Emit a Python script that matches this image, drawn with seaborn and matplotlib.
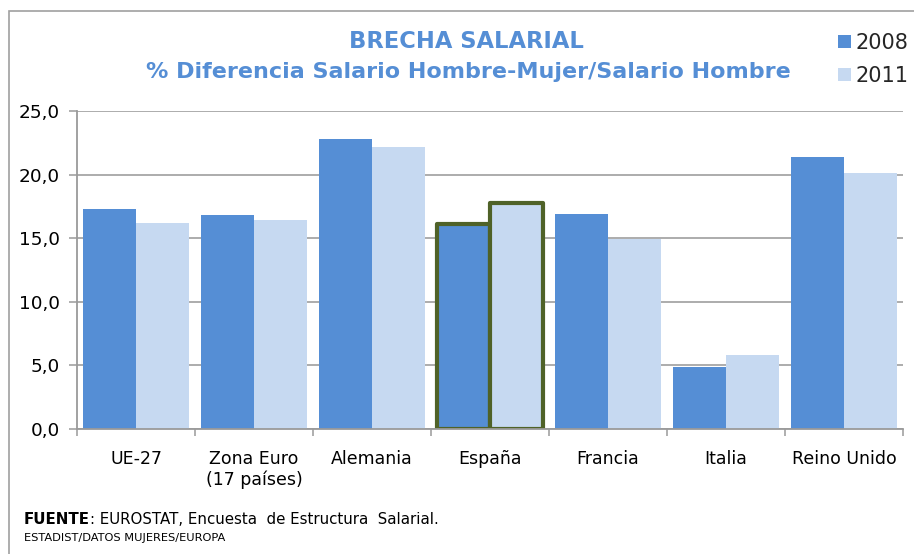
import matplotlib
matplotlib.use("Agg")
import matplotlib.pyplot as plt
from matplotlib.patches import Rectangle
from matplotlib.ticker import FuncFormatter, FixedLocator
import seaborn as sns
import pandas as pd

paises = ["UE-27", "Zona Euro\n(17 países)", "Alemania", "España", "Francia", "Italia", "Reino Unido"]
brecha_2008 = [17.3, 16.8, 22.8, 16.1, 16.9, 4.9, 21.4]
brecha_2011 = [16.2, 16.4, 22.2, 17.8, 14.9, 5.8, 20.1]
anios = ["2008", "2011"]
colores = ["#558ED5", "#C6D9F1"]
destacado = "España"

df = pd.DataFrame({
    "pais": paises * 2,
    "valor": brecha_2008 + brecha_2011,
    "anio": [anios[0]] * len(paises) + [anios[1]] * len(paises),
})

sns.set_theme(style="white")
plt.rcParams["font.family"] = ["DejaVu Sans"]

W, H = 914, 554
fig = plt.figure(figsize=(W / 100, H / 100), dpi=100)
ax = fig.add_axes([77 / W, (H - 429) / H, (903 - 77) / W, (429 - 111) / H])

sns.barplot(data=df, x="pais", y="valor", hue="anio", palette=colores,
            saturation=1, width=0.89, gap=0, ax=ax, legend=True,
            linewidth=0, edgecolor="none")

# highlight the Spanish pair of bars with a dark green outline
idx = paises.index(destacado)
for cont in ax.containers:
    bar = cont.patches[idx]
    bar.set_edgecolor("#4F6228")
    bar.set_linewidth(3.0)
    bar.set_joinstyle("round")

ax.set_ylim(0, 25)
ax.set_xlim(-0.5, len(paises) - 0.5)
ax.yaxis.set_major_locator(FixedLocator([0, 5, 10, 15, 20, 25]))
ax.yaxis.set_major_formatter(FuncFormatter(lambda v, p: f"{v:.1f}".replace(".", ",")))
ax.grid(axis="y", color="#A6A6A6", linewidth=1.3)
ax.grid(axis="x", visible=False)
ax.set_axisbelow(True)

ax.set_xlabel("")
ax.set_ylabel("")
for s in ["top", "right"]:
    ax.spines[s].set_visible(False)
for s in ["left", "bottom"]:
    ax.spines[s].set_color("#9A9A9A")
    ax.spines[s].set_linewidth(1.3)

ax.tick_params(axis="y", which="major", left=True, length=5.5, width=1.1, color="#9A9A9A",
               labelsize=13.3, pad=7, labelcolor="#000000")
ax.set_xticks([i - 0.5 for i in range(len(paises) + 1)], minor=True)
ax.tick_params(axis="x", which="major", bottom=False, labelsize=12.5, pad=9, labelcolor="#000000")
ax.tick_params(axis="x", which="minor", bottom=True, length=5, width=1.1, color="#9A9A9A")

# legend in the upper right corner
handles, labels = ax.get_legend_handles_labels()
ax.legend(handles, labels, loc="upper left", bbox_to_anchor=(838 / W, 1 - 33 / H),
          bbox_transform=fig.transFigure, frameon=False, fontsize=15,
          handlelength=0.6, handleheight=0.6, handletextpad=0.25,
          labelspacing=0.6, borderpad=0, borderaxespad=0)

# titles
azul = "#558ED5"
fig.text(466 / W, 1 - 42 / H, "BRECHA SALARIAL", ha="center", va="center",
         fontsize=16.3, fontweight="bold", color=azul)
fig.text(468 / W, 1 - 72 / H, "% Diferencia Salario Hombre-Mujer/Salario Hombre",
         ha="center", va="center", fontsize=16, fontweight="bold", color=azul)

# source notes
t1 = fig.text(24 / W, 1 - 519 / H, "FUENTE", ha="left", va="center",
              fontsize=10.8, fontweight="bold", color="#000000")
fig.canvas.draw()
bb = t1.get_window_extent(renderer=fig.canvas.get_renderer())
fig.text(bb.x1 / W, 1 - 519 / H, ": EUROSTAT, Encuesta  de Estructura  Salarial.",
         ha="left", va="center", fontsize=10.8, color="#000000")
fig.text(24 / W, 1 - 538 / H, "ESTADIST/DATOS MUJERES/EUROPA", ha="left", va="center",
         fontsize=8.2, color="#000000")

# outer frame of the chart
fig.patches.append(Rectangle((9 / W, -0.05), 1.2, 1 - 11 / H + 0.05,
                             transform=fig.transFigure, fill=False,
                             edgecolor="#A0A0A0", linewidth=1.2, zorder=-1))

fig.savefig("out.png", dpi=100)
